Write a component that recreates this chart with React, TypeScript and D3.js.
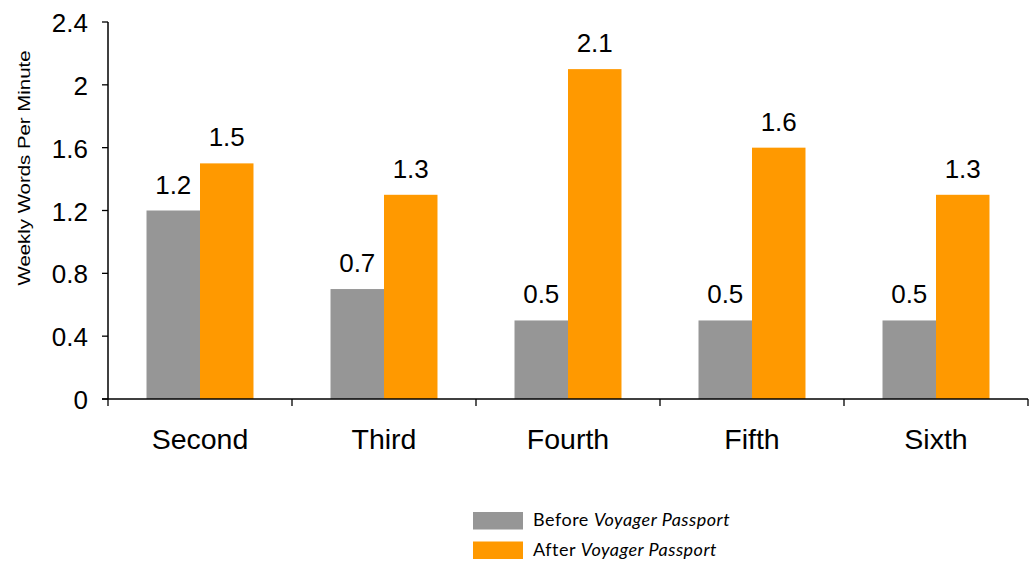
import React from "react";
import * as d3 from "d3";

const grades = ["Second", "Third", "Fourth", "Fifth", "Sixth"];
const beforeValues = [1.2, 0.7, 0.5, 0.5, 0.5];
const afterValues = [1.5, 1.3, 2.1, 1.6, 1.3];
const yTicks = [0, 0.4, 0.8, 1.2, 1.6, 2, 2.4];
const seriesNames = ["Before", "After"];
const seriesColors = ["#969696", "#FF9900"];

const W = 1036;
const H = 561;
const left = 108;
const right = 1028;
const top = 22;
const bottom = 399;

export default function App() {
  const x = d3.scaleBand<string>().domain(grades).range([left, right]).paddingInner(0).paddingOuter(0);
  // two bars per grade, centred in each band with ~42% of the band left empty
  const inner = d3.scaleBand<string>().domain(seriesNames).range([0, x.bandwidth()]).paddingOuter(0.72).paddingInner(0);
  const y = d3.scaleLinear().domain([0, 2.4]).range([bottom, top]);
  const series = [beforeValues, afterValues];
  const font = "'Liberation Sans', Arial, sans-serif";
  const legendFont = "Lato, 'Open Sans', sans-serif";

  return (
    <svg width={W} height={H} style={{ position: "absolute", left: 0, top: 0 }}>
      <rect width={W} height={H} fill="#fff" />
      {grades.map((g, i) =>
        series.map((vals, s) => {
          const bx = (x(g) ?? 0) + (inner(seriesNames[s]) ?? 0);
          const bw = inner.bandwidth();
          return (
            <g key={g + s}>
              <rect x={bx} y={y(vals[i])} width={bw} height={y(0) - y(vals[i])} fill={seriesColors[s]} />
              <text x={bx + bw / 2} y={y(vals[i]) - 17} textAnchor="middle" fontFamily={font} fontSize={26} fill="#000">
                {vals[i]}
              </text>
            </g>
          );
        })
      )}
      {/* y axis */}
      <line x1={left} x2={left} y1={top} y2={bottom} stroke="#000" strokeWidth={1.5} />
      {yTicks.map((t) => (
        <g key={t}>
          <line x1={left - 6} x2={left} y1={y(t)} y2={y(t)} stroke="#000" strokeWidth={1.3} />
          <text x={88} y={y(t) + 10} textAnchor="end" fontFamily={font} fontSize={26} fill="#000">
            {t}
          </text>
        </g>
      ))}
      {/* x axis */}
      <line x1={left - 6} x2={right} y1={bottom} y2={bottom} stroke="#000" strokeWidth={1.5} />
      {grades.map((g) => (
        <line key={g} x1={x(g)} x2={x(g)} y1={bottom} y2={bottom + 7} stroke="#000" strokeWidth={1.3} />
      ))}
      <line x1={right} x2={right} y1={bottom} y2={bottom + 7} stroke="#000" strokeWidth={1.3} />
      {grades.map((g) => (
        <text key={g} x={(x(g) ?? 0) + x.bandwidth() / 2} y={449} textAnchor="middle" fontFamily={font} fontSize={28.5} fill="#000">
          {g}
        </text>
      ))}
      <text transform="translate(30,168) rotate(-90)" textAnchor="middle" fontFamily={font} fontSize={17} textLength={235} lengthAdjust="spacingAndGlyphs" fill="#000">
        Weekly Words Per Minute
      </text>
      {/* legend */}
      {seriesNames.map((n, i) => (
        <g key={n} transform={`translate(473,${512 + i * 29.5})`}>
          <rect width={50} height={17.5} fill={seriesColors[i]} />
          <text x={60} y={14} fontFamily={legendFont} fontSize={18} letterSpacing={0.5} fill="#000">
            {n + " "}
            <tspan fontStyle="italic">Voyager Passport</tspan>
          </text>
        </g>
      ))}
    </svg>
  );
}
